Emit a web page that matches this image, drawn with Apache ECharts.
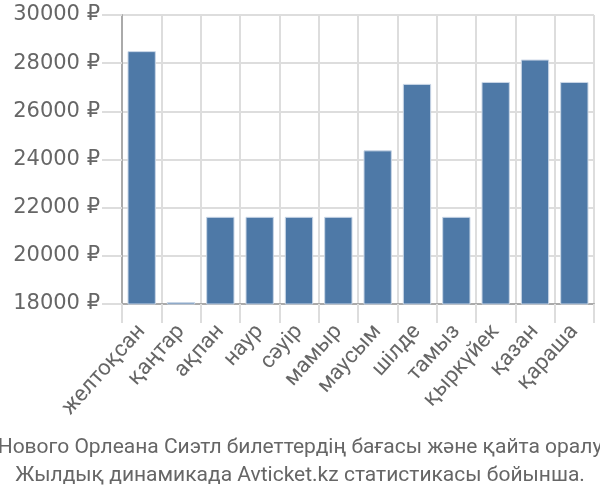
<!DOCTYPE html>
<html><head><meta charset="utf-8">
<script src="https://cdn.jsdelivr.net/npm/echarts@6/dist/echarts.min.js"></script>
<style>html,body{margin:0;padding:0;background:#fff}#c{width:600px;height:500px}</style>
</head><body><div id="c"></div>
<script>
const categories = ['желтоқсан','қаңтар','ақпан','наур','сәуір','мамыр','маусым','шілде','тамыз','қыркүйек','қазан','қараша'];
const prices = [28500, 18080, 21620, 21620, 21620, 21620, 24380, 27140, 21620, 27220, 28150, 27220];
const captionLines = ['Нового Орлеана Сиэтл билеттердің бағасы және қайта оралу', 'Жылдық динамикада Avticket.kz статистикасы бойынша.'];

const chart = echarts.init(document.getElementById('c'), null, {renderer: 'canvas'});
chart.setOption({
  animation: false,
  backgroundColor: '#fff',
  grid: {left: 122, right: 6, top: 15, bottom: 196},
  xAxis: {
    type: 'category', data: categories,
    axisLine: {lineStyle: {color: '#aaa', width: 2}},
    axisTick: {show: true, length: 19, interval: 0, lineStyle: {color: '#ddd', width: 2}},
    splitLine: {show: true, interval: 0, lineStyle: {color: '#ddd', width: 2}},
    axisLabel: {rotate: 48, interval: 0, color: '#666', fontSize: 22, fontFamily: 'Roboto', margin: 24}
  },
  yAxis: {
    type: 'value', min: 18000, max: 30000, interval: 2000,
    axisLine: {show: true, lineStyle: {color: '#aaa', width: 2}},
    axisTick: {show: true, length: 20, lineStyle: {color: '#ddd', width: 2}},
    splitLine: {lineStyle: {color: '#ddd', width: 2}},
    axisLabel: {color: '#666', fontSize: 21, fontFamily: 'DejaVu Sans', margin: 22, formatter: v => v + ' ₽'}
  },
  series: [{
    type: 'bar', data: prices, barCategoryGap: '28%',
    itemStyle: {color: '#4e79a7', borderColor: '#c9d6e6', borderWidth: 1}
  }],
  title: {
    text: captionLines.join('\n'), left: 'center', top: 429,
    textStyle: {color: '#666', fontSize: 21, fontWeight: 'normal', fontFamily: 'Roboto', lineHeight: 28}
  }
});
</script></body></html>
